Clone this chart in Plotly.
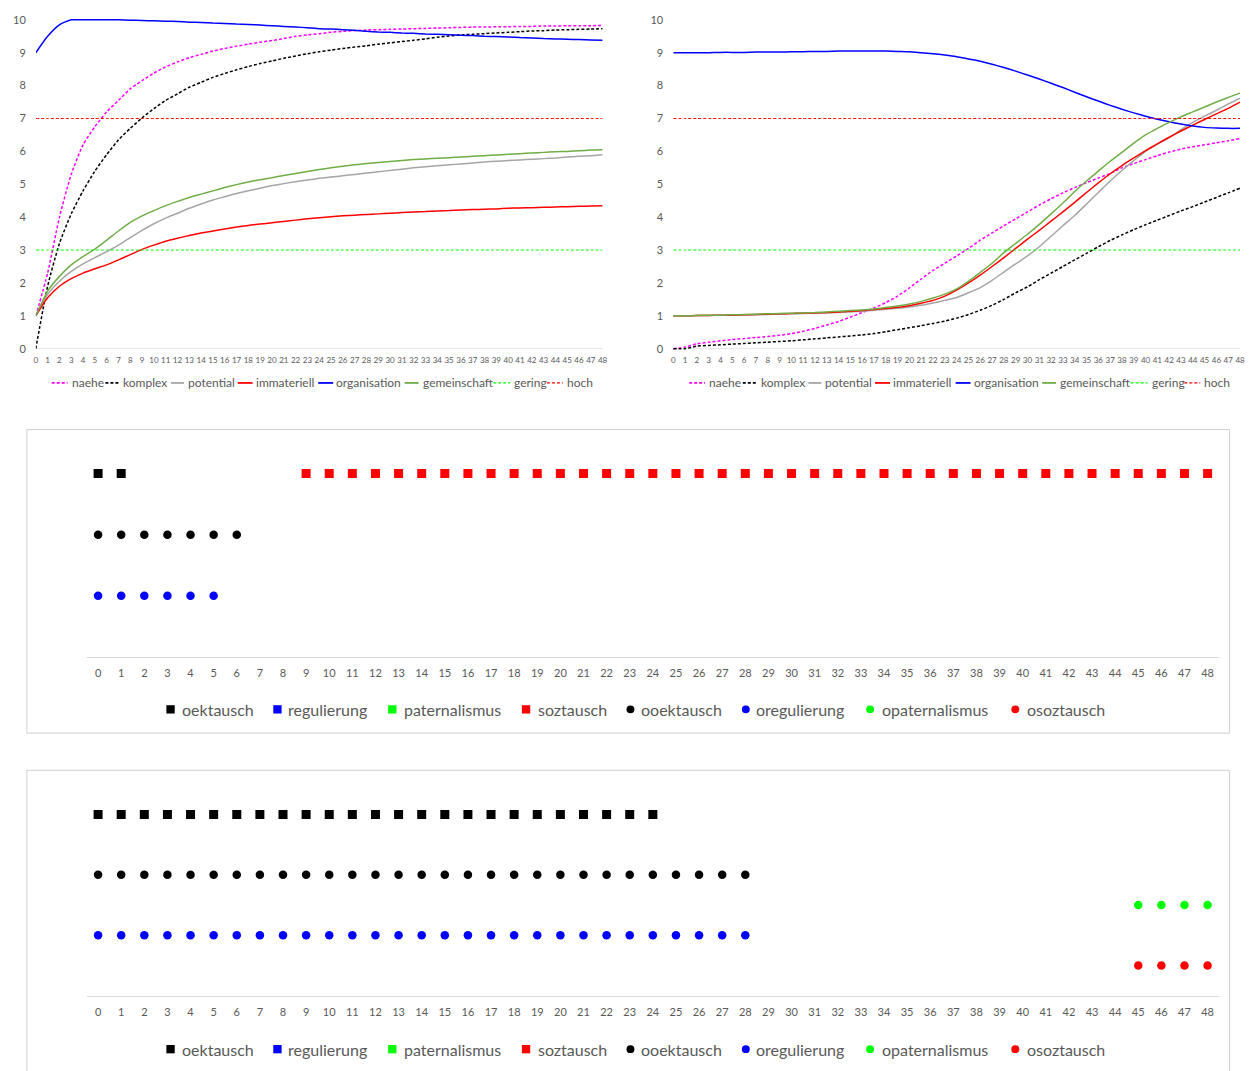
import plotly.graph_objects as go

W, H = 1251, 1071
X = list(range(49))
X_LABELS = [str(v) for v in X]

# ---------------- top-left line chart ----------------
tl_naehe = [1.0, 2.3, 4.0, 5.3, 6.2, 6.75, 7.2, 7.55, 7.9, 8.15, 8.38, 8.57, 8.72, 8.85, 8.95, 9.05,
            9.13, 9.2, 9.26, 9.32, 9.37, 9.43, 9.5, 9.54, 9.58, 9.62, 9.65, 9.67, 9.69, 9.7, 9.71,
            9.72, 9.73, 9.74, 9.75, 9.76, 9.77, 9.78, 9.78, 9.79, 9.79, 9.8, 9.8, 9.81, 9.81, 9.82,
            9.82, 9.82, 9.83]
tl_komplex = [0.0, 1.9, 3.2, 4.1, 4.8, 5.4, 5.9, 6.35, 6.7, 7.02, 7.3, 7.55, 7.75, 7.95, 8.1, 8.25,
              8.37, 8.48, 8.58, 8.67, 8.75, 8.83, 8.9, 8.97, 9.03, 9.08, 9.13, 9.17, 9.21, 9.26, 9.3,
              9.34, 9.38, 9.42, 9.47, 9.51, 9.54, 9.56, 9.58, 9.6, 9.62, 9.64, 9.66, 9.67, 9.69, 9.7,
              9.71, 9.72, 9.73]
tl_potential = [1.0, 1.65, 2.05, 2.35, 2.58, 2.77, 2.95, 3.15, 3.38, 3.6, 3.8, 3.97, 4.12, 4.27, 4.4,
                4.52, 4.62, 4.72, 4.8, 4.88, 4.96, 5.02, 5.08, 5.13, 5.18, 5.22, 5.26, 5.3, 5.34, 5.38,
                5.42, 5.46, 5.5, 5.53, 5.56, 5.59, 5.62, 5.65, 5.68, 5.7, 5.72, 5.74, 5.76, 5.78, 5.8,
                5.83, 5.85, 5.87, 5.9]
tl_immateriell = [1.0, 1.55, 1.9, 2.13, 2.3, 2.43, 2.55, 2.7, 2.86, 3.02, 3.15, 3.27, 3.36, 3.44, 3.52,
                  3.58, 3.64, 3.7, 3.75, 3.79, 3.83, 3.87, 3.91, 3.95, 3.98, 4.01, 4.04, 4.06, 4.08, 4.1,
                  4.12, 4.14, 4.16, 4.17, 4.19, 4.2, 4.22, 4.23, 4.24, 4.25, 4.27, 4.28, 4.29, 4.3, 4.31,
                  4.32, 4.33, 4.34, 4.35]
tl_organisation = [9.0, 9.5, 9.85, 10.0, 10.0, 10.0, 10.0, 10.0, 9.99, 9.98, 9.97, 9.96, 9.95, 9.93, 9.92,
                   9.9, 9.89, 9.87, 9.86, 9.84, 9.82, 9.8, 9.78, 9.76, 9.73, 9.72, 9.7, 9.68, 9.65, 9.63,
                   9.62, 9.6, 9.59, 9.57, 9.56, 9.55, 9.53, 9.52, 9.5, 9.49, 9.48, 9.46, 9.45, 9.43, 9.42,
                   9.41, 9.4, 9.39, 9.38]
tl_gemeinschaft = [1.0, 1.75, 2.2, 2.55, 2.8, 3.03, 3.3, 3.58, 3.84, 4.04, 4.2, 4.35, 4.48, 4.6, 4.7, 4.8,
                   4.9, 4.99, 5.07, 5.14, 5.2, 5.27, 5.33, 5.39, 5.45, 5.5, 5.55, 5.59, 5.63, 5.66, 5.69,
                   5.72, 5.75, 5.77, 5.79, 5.81, 5.83, 5.85, 5.87, 5.89, 5.91, 5.93, 5.95, 5.97, 5.99, 6.0,
                   6.02, 6.04, 6.05]
gering = [3] * 49
hoch = [7] * 49

# ---------------- top-right line chart ----------------
tr_naehe = [0.0, 0.05, 0.15, 0.2, 0.24, 0.28, 0.31, 0.34, 0.37, 0.41, 0.46, 0.53, 0.62, 0.72, 0.83, 0.96,
            1.1, 1.24, 1.4, 1.6, 1.85, 2.12, 2.38, 2.6, 2.82, 3.05, 3.3, 3.52, 3.74, 3.95, 4.16, 4.37,
            4.56, 4.74, 4.9, 5.05, 5.19, 5.33, 5.5, 5.63, 5.75, 5.87, 5.98, 6.07, 6.14, 6.2, 6.26, 6.32,
            6.39]
tr_komplex = [0.0, 0.0, 0.08, 0.1, 0.12, 0.14, 0.16, 0.18, 0.2, 0.22, 0.24, 0.27, 0.3, 0.33, 0.36, 0.39,
              0.42, 0.46, 0.52, 0.58, 0.64, 0.7, 0.77, 0.84, 0.93, 1.04, 1.17, 1.32, 1.5, 1.7, 1.88, 2.1,
              2.3, 2.5, 2.7, 2.9, 3.1, 3.29, 3.46, 3.62, 3.77, 3.91, 4.05, 4.19, 4.32, 4.46, 4.6, 4.74,
              4.88]
tr_potential = [1.0, 1.0, 1.01, 1.01, 1.02, 1.02, 1.03, 1.03, 1.04, 1.05, 1.06, 1.07, 1.08, 1.09, 1.1,
                1.12, 1.14, 1.17, 1.2, 1.23, 1.27, 1.32, 1.39, 1.47, 1.56, 1.7, 1.86, 2.08, 2.33, 2.58,
                2.82, 3.1, 3.42, 3.74, 4.05, 4.4, 4.75, 5.1, 5.42, 5.72, 6.0, 6.22, 6.42, 6.66, 6.88,
                7.07, 7.25, 7.44, 7.62]
tr_immateriell = [1.0, 1.0, 1.01, 1.01, 1.02, 1.02, 1.03, 1.04, 1.05, 1.06, 1.07, 1.08, 1.09, 1.1, 1.12,
                  1.14, 1.16, 1.19, 1.22, 1.26, 1.31, 1.38, 1.47, 1.6, 1.78, 2.0, 2.24, 2.5, 2.77, 3.05,
                  3.33, 3.6, 3.88, 4.16, 4.45, 4.75, 5.04, 5.32, 5.57, 5.8, 6.02, 6.23, 6.43, 6.62, 6.8,
                  6.97, 7.14, 7.31, 7.5]
tr_organisation = [9.0, 9.0, 9.0, 9.0, 9.01, 9.01, 9.01, 9.02, 9.02, 9.02, 9.03, 9.03, 9.04, 9.04, 9.05,
                   9.05, 9.05, 9.05, 9.05, 9.04, 9.03, 9.0, 8.97, 8.93, 8.88, 8.81, 8.74, 8.65, 8.55, 8.44,
                   8.32, 8.2, 8.07, 7.94, 7.8, 7.66, 7.53, 7.4, 7.28, 7.17, 7.07, 6.98, 6.9, 6.83, 6.77,
                   6.73, 6.71, 6.7, 6.7]
tr_gemeinschaft = [1.0, 1.0, 1.01, 1.02, 1.02, 1.03, 1.04, 1.05, 1.06, 1.07, 1.08, 1.09, 1.1, 1.12, 1.14,
                   1.16, 1.18, 1.21, 1.25, 1.3, 1.36, 1.44, 1.54, 1.66, 1.82, 2.05, 2.32, 2.6, 2.92, 3.2,
                   3.48, 3.78, 4.1, 4.43, 4.78, 5.1, 5.4, 5.7, 5.97, 6.25, 6.5, 6.7, 6.88, 7.05, 7.2, 7.35,
                   7.5, 7.64, 7.77]

# ---------------- marker charts (value = row level, None = no marker) ----------------
N = None
mid_oektausch = [6, 6] + [N] * 47
mid_soztausch = [N] * 9 + [6] * 40
mid_ooektausch = [4] * 7 + [N] * 42
mid_oregulierung = [2] * 6 + [N] * 43

bot_oektausch = [6] * 25 + [N] * 24
bot_ooektausch = [4] * 29 + [N] * 20
bot_oregulierung = [2] * 29 + [N] * 20
bot_opaternalismus = [N] * 45 + [3] * 4
bot_osoztausch = [N] * 45 + [1] * 4

LINE_NAMES = ["naehe", "komplex", "potential", "immateriell", "organisation", "gemeinschaft", "gering", "hoch"]
MARK_NAMES = ["oektausch", "regulierung", "paternalismus", "soztausch",
              "ooektausch", "oregulierung", "opaternalismus", "osoztausch"]

# ---------------- styles ----------------
FONT = "Lato, Carlito, 'Open Sans', sans-serif"
TXT = "#595959"
line_style = {
    "naehe": dict(color="#FF00FF", dash="3px,2px", width=1.5),
    "komplex": dict(color="#000000", dash="3px,2px", width=1.5),
    "potential": dict(color="#A5A5A5", dash="solid", width=1.5),
    "immateriell": dict(color="#FF0000", dash="solid", width=1.5),
    "organisation": dict(color="#0000FF", dash="solid", width=1.5),
    "gemeinschaft": dict(color="#70AD47", dash="solid", width=1.5),
    "gering": dict(color="#00FF00", dash="3px,2px", width=1),
    "hoch": dict(color="#FF0000", dash="3px,2px", width=1),
}
mark_style = {
    "oektausch": ("square", "#000000"), "regulierung": ("square", "#0000FF"),
    "paternalismus": ("square", "#00FF00"), "soztausch": ("square", "#FF0000"),
    "ooektausch": ("circle", "#000000"), "oregulierung": ("circle", "#0000FF"),
    "opaternalismus": ("circle", "#00FF00"), "osoztausch": ("circle", "#FF0000"),
}


def fx(px):
    return px / W


def fy(py):
    return 1 - py / H


fig = go.Figure()

left_series = [tl_naehe, tl_komplex, tl_potential, tl_immateriell, tl_organisation, tl_gemeinschaft, gering, hoch]
right_series = [tr_naehe, tr_komplex, tr_potential, tr_immateriell, tr_organisation, tr_gemeinschaft, gering, hoch]
for series, xa, ya in [(left_series, "x", "y"), (right_series, "x2", "y2")]:
    for name, vals in zip(LINE_NAMES, series):
        st = line_style[name]
        fig.add_trace(go.Scatter(
            x=X, y=vals, mode="lines", name=name, showlegend=False, hoverinfo="skip",
            line=dict(color=st["color"], dash=st["dash"], width=st["width"], shape="spline", smoothing=0.6),
            xaxis=xa, yaxis=ya))

mid_series = {"oektausch": mid_oektausch, "soztausch": mid_soztausch,
              "ooektausch": mid_ooektausch, "oregulierung": mid_oregulierung}
bot_series = {"oektausch": bot_oektausch, "ooektausch": bot_ooektausch, "oregulierung": bot_oregulierung,
              "opaternalismus": bot_opaternalismus, "osoztausch": bot_osoztausch}
for series, xa, ya in [(mid_series, "x3", "y3"), (bot_series, "x4", "y4")]:
    for name, vals in series.items():
        sym, col = mark_style[name]
        fig.add_trace(go.Scatter(
            x=X, y=vals, mode="markers", name=name, showlegend=False, hoverinfo="skip",
            marker=dict(symbol=sym, color=col, size=9 if sym == "square" else 8.5),
            xaxis=xa, yaxis=ya))


# ---------------- axes ----------------
def line_xaxis(x0, x1):
    return dict(domain=[fx(x0), fx(x1)], range=[0, 48], tickmode="array", tickvals=X, ticktext=X_LABELS,
                tickfont=dict(size=8, color=TXT), showgrid=False, zeroline=False, showline=False,
                ticks="", ticklabelstandoff=4, fixedrange=True)


def line_yaxis(anchor):
    # value 0 at pixel 347, value 10 at pixel 15
    return dict(domain=[fy(348.3), fy(13.3)], range=[-0.04, 10.05], tickmode="array",
                tickvals=list(range(11)), tickfont=dict(size=11, color=TXT), showgrid=False,
                zeroline=True, zerolinecolor="#E8E8E8", zerolinewidth=1, showline=False, ticks="",
                ticklabelstandoff=9, anchor=anchor, fixedrange=True)


def mark_xaxis(anchor):
    return dict(domain=[fx(85), fx(1224)], range=[-0.5, 48.5], tickmode="array", tickvals=X,
                ticktext=X_LABELS, tickfont=dict(size=11, color=TXT), showgrid=False, zeroline=False,
                showline=True, linecolor="#D9D9D9", linewidth=1, ticks="", ticklabelstandoff=6,
                anchor=anchor, fixedrange=True)


def mark_yaxis(p_bottom, p_top, anchor):
    return dict(domain=[fy(p_bottom), fy(p_top)], range=[0, 7], visible=False, showgrid=False,
                zeroline=False, anchor=anchor, fixedrange=True)


shapes = []
annotations = []

# frames of the two marker charts
shapes.append(dict(type="rect", xref="paper", yref="paper", x0=fx(25), x1=fx(1234.5), y0=fy(735), y1=fy(428.5),
                   line=dict(color="#D0D0D0", width=1), fillcolor="rgba(0,0,0,0)", layer="below"))
shapes.append(dict(type="rect", xref="paper", yref="paper", x0=fx(25), x1=fx(1234.5), y0=fy(1085), y1=fy(772.5),
                   line=dict(color="#D0D0D0", width=1), fillcolor="rgba(0,0,0,0)", layer="below"))

# legends of the line charts (swatch x0, x1, text x)
line_leg_pos = [(50, 66, 68), (104, 119, 120), (170, 183, 185), (237, 252, 253),
                (318, 333, 334), (405, 419, 421), (494, 511, 513), (548, 564, 566)]
for offset in (0, 641):
    for name, (s0, s1, tx) in zip(LINE_NAMES, line_leg_pos):
        st = line_style[name]
        shapes.append(dict(type="line", xref="paper", yref="paper", x0=fx(s0 + offset), x1=fx(s1 + offset),
                           y0=fy(381.5), y1=fy(381.5),
                           line=dict(color=st["color"], dash=st["dash"], width=st["width"] + 0.3)))
        annotations.append(dict(text=name, xref="paper", yref="paper", x=fx(tx + offset), y=fy(381.5),
                                xanchor="left", yanchor="middle", showarrow=False,
                                font=dict(size=12, color=TXT, family=FONT)))

# legends of the marker charts (symbol centre x, text x)
mark_leg_pos = [(169.5, 179), (277, 286), (392.5, 402), (527, 537),
                (632, 641), (748, 756), (873, 883), (1019, 1029)]
for ly in (711, 1054):
    for name, (cx, tx) in zip(MARK_NAMES, mark_leg_pos):
        sym, col = mark_style[name]
        r = 4.2 if sym == "square" else 4.0
        shapes.append(dict(type="rect" if sym == "square" else "circle", xref="paper", yref="paper",
                           x0=fx(cx - r), x1=fx(cx + r), y0=fy(ly + r), y1=fy(ly - r),
                           line=dict(width=0), fillcolor=col))
        annotations.append(dict(text=name, xref="paper", yref="paper", x=fx(tx), y=fy(ly + 0.5),
                                xanchor="left", yanchor="middle", showarrow=False,
                                font=dict(size=16, color=TXT, family=FONT)))

fig.update_layout(
    autosize=True, margin=dict(l=0, r=0, t=0, b=0, pad=0),
    paper_bgcolor="white", plot_bgcolor="white",
    font=dict(family=FONT, color=TXT),
    showlegend=False,
    xaxis=dict(line_xaxis(34, 604), anchor="y"),
    yaxis=line_yaxis("x"),
    xaxis2=dict(line_xaxis(675, 1245), anchor="y2"),
    yaxis2=line_yaxis("x2"),
    xaxis3=mark_xaxis("y3"),
    yaxis3=mark_yaxis(658, 658 - 7 * 30.83, "x3"),
    xaxis4=mark_xaxis("y4"),
    yaxis4=mark_yaxis(1000, 1000 - 7 * 30.5, "x4"),
    shapes=shapes,
    annotations=annotations,
)

fig.write_html(
    "out.html",
    config={"displayModeBar": False, "responsive": True},
    default_width="100vw",
    default_height="100vh",
    post_script="document.body.style.margin='0';document.body.style.overflow='hidden';"
                "document.documentElement.style.overflow='hidden';",
)
